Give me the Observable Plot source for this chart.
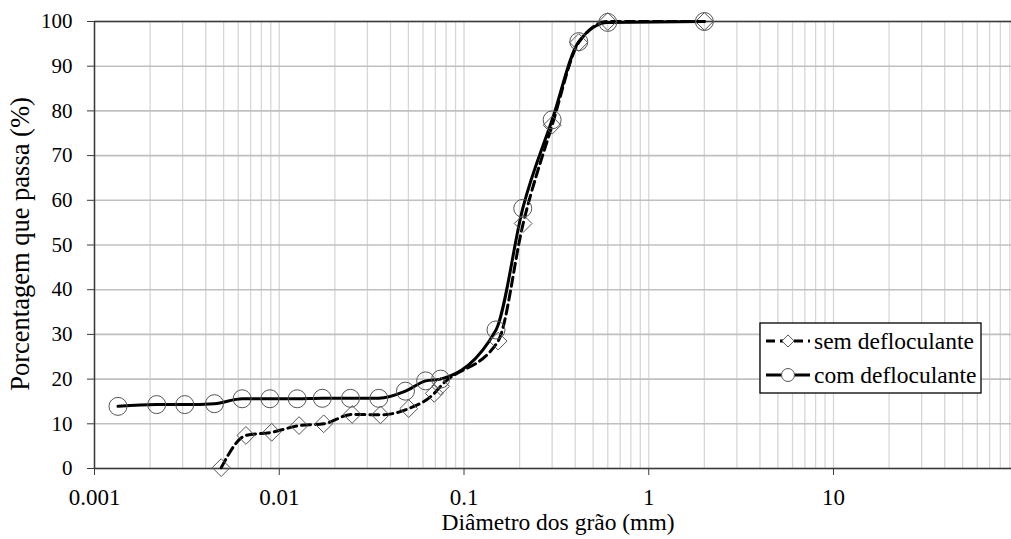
<!DOCTYPE html>
<html><head><meta charset="utf-8">
<script src="https://cdn.jsdelivr.net/npm/d3@7"></script>
<script src="https://cdn.jsdelivr.net/npm/@observablehq/plot@0.6"></script>
<style>body{margin:0;background:#fff;} #chart{position:relative;width:1011px;height:539px;overflow:hidden}</style>
</head><body><div id="chart"></div>
<script>
// sem defloculante (diamonds, dashed)
const semDiam = [0.00485, 0.0066, 0.0091, 0.0128, 0.0174, 0.0248, 0.0353, 0.0502, 0.0690, 0.0747, 0.153, 0.209, 0.300, 0.418, 0.600, 2.0];
const semPass = [0.2, 7.4, 8.1, 9.6, 10.0, 12.1, 12.0, 13.4, 16.8, 18.4, 28.5, 54.8, 76.8, 95.3, 100, 100];
// com defloculante (circles, solid)
const comDiam = [0.00134, 0.00217, 0.00308, 0.00446, 0.0063, 0.0089, 0.0125, 0.0171, 0.0243, 0.0346, 0.0482, 0.062, 0.0747, 0.149, 0.208, 0.300, 0.418, 0.600, 2.0];
const comPass = [13.9, 14.3, 14.3, 14.5, 15.6, 15.6, 15.6, 15.7, 15.7, 15.7, 17.3, 19.6, 20.0, 31.0, 58.2, 78.0, 95.5, 99.8, 100];
const seriesNames = ["sem defloculante", "com defloculante"];
const xTicks = [0.001, 0.01, 0.1, 1, 10];
const xTickLabels = ["0.001", "0.01", "0.1", "1", "10"];
const yTicks = [0, 10, 20, 30, 40, 50, 60, 70, 80, 90, 100];
const xTitle = "Diâmetro dos grão (mm)";
const yTitle = "Porcentagem que passa (%)";

const sem = semDiam.map((d, i) => ({d, p: semPass[i]}));
const com = comDiam.map((d, i) => ({d, p: comPass[i]}));
const xGrid = xTicks.flatMap(t => d3.range(1, 10).map(m => m * t)).concat([100]);
const FONT = "Liberation Serif, Times New Roman, serif";

const plot = Plot.plot({
  width: 1011, height: 539,
  marginLeft: 94, marginRight: -6.75, marginTop: 21, marginBottom: 71,
  style: {fontFamily: FONT, fontSize: "21px", background: "#fff", color: "#000", overflow: "hidden"},
  x: {type: "log", domain: [0.001, 100]},
  y: {domain: [0, 100]},
  marks: [
    Plot.ruleX(xGrid, {stroke: "#d6d6d6", strokeWidth: 1.3}),
    Plot.ruleY(yTicks, {stroke: "#c0c0c0", strokeWidth: 1.6}),
    Plot.ruleY([100], {stroke: "#3a3a3a", strokeWidth: 1.5}),
    Plot.ruleY([0], {stroke: "#3a3a3a", strokeWidth: 1.5}),
    Plot.ruleX([0.001], {stroke: "#3a3a3a", strokeWidth: 1.5}),
    Plot.axisY({ticks: yTicks, tickSize: 7, tickFormat: () => "", label: null, stroke: "#3a3a3a"}),
    Plot.axisX({ticks: xTicks, tickSize: 7, tickFormat: () => "", label: null, stroke: "#3a3a3a"}),
    Plot.text(yTicks, {y: d => d, frameAnchor: "left", dx: -22, textAnchor: "end", text: d => String(d), fontSize: 21, fill: "#000"}),
    Plot.text(xTicks, {x: d => d, frameAnchor: "bottom", dy: 36, text: (d, i) => xTickLabels[i], fontSize: 23, fill: "#000"}),
    Plot.line(sem, {x: "d", y: "p", curve: "monotone-x", stroke: "#000", strokeWidth: 3, strokeDasharray: "9,5"}),
    Plot.line(com, {x: "d", y: "p", curve: "monotone-x", stroke: "#000", strokeWidth: 3}),
    Plot.dot(sem, {x: "d", y: "p", symbol: "diamond2", r: 8, stroke: "#555", strokeWidth: 1, fill: "none"}),
    Plot.dot(com, {x: "d", y: "p", symbol: "circle", r: 9, stroke: "#555", strokeWidth: 1, fill: "none"})
  ]
});
document.getElementById("chart").appendChild(plot);

const svg = d3.select(plot);
svg.append("text").attr("x", 558).attr("y", 530).attr("text-anchor", "middle")
  .attr("font-family", FONT).attr("font-size", 23.5).attr("fill", "#000").text(xTitle);
svg.append("text").attr("transform", "translate(29,244) rotate(-90)").attr("text-anchor", "middle")
  .attr("font-family", FONT).attr("font-size", 26.5).attr("fill", "#000").text(yTitle);

// legend
const lg = svg.append("g");
lg.append("rect").attr("x", 760).attr("y", 323).attr("width", 221).attr("height", 70)
  .attr("fill", "#fff").attr("stroke", "#000").attr("stroke-width", 1.3);
const rows = [{y: 341, dash: "9,5", sym: d3.symbolDiamond2, size: Math.PI * 30}, {y: 375, dash: null, sym: d3.symbolCircle, size: Math.PI * 42}];
rows.forEach((r, i) => {
  lg.append("line").attr("x1", 766).attr("x2", 810).attr("y1", r.y).attr("y2", r.y)
    .attr("stroke", "#000").attr("stroke-width", 3).attr("stroke-dasharray", r.dash);
  lg.append("path").attr("d", d3.symbol(r.sym, r.size)()).attr("transform", `translate(788,${r.y})`)
    .attr("fill", "#fff").attr("stroke", "#555").attr("stroke-width", 1);
  lg.append("text").attr("x", 814).attr("y", r.y).attr("dy", "0.32em").attr("text-anchor", "start")
    .attr("font-family", FONT).attr("font-size", 23.5).attr("fill", "#000").text(seriesNames[i]);
});
</script>
</body></html>
